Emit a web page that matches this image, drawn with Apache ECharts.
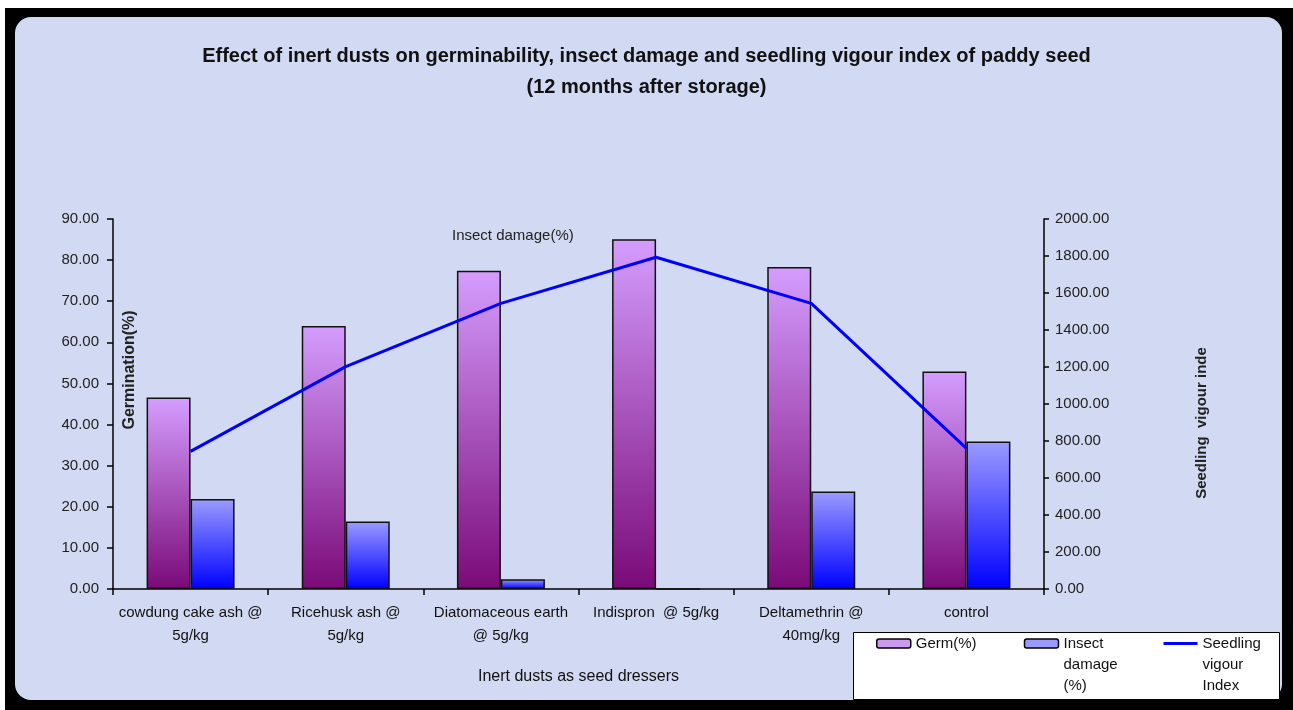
<!DOCTYPE html>
<html>
<head>
<meta charset="utf-8">
<script src="https://cdn.jsdelivr.net/npm/echarts@6/dist/echarts.min.js"></script>
<style>
  html, body { margin: 0; padding: 0; background: #fff; }
  #frame { position: absolute; left: 5px; top: 8px; width: 1288px; height: 702px; background: #000; }
  #panel { position: absolute; left: 15px; top: 17px; width: 1267px; height: 683px; border-radius: 16px; background: #d1daf2; }
  #main { position: absolute; left: 0; top: 0; width: 1293px; height: 710px; }
</style>
</head>
<body>
<div id="frame"></div>
<div id="panel"></div>
<div id="main"></div>
<script>
// treatments (x axis)
var categories = [
  'cowdung cake ash @\n5g/kg',
  'Ricehusk ash @\n5g/kg',
  'Diatomaceous earth\n@ 5g/kg',
  'Indispron  @ 5g/kg',
  'Deltamethrin @\n40mg/kg',
  'control'
];
var germ = [46.6, 64.0, 77.4, 85.1, 78.3, 52.9];
var insectDamage = [21.9, 16.4, 2.4, 0, 23.7, 35.9];
var vigourIndex = [744, 1202, 1544, 1793, 1544, 760];

var font = '"Liberation Sans", Arial, sans-serif';

var chart = echarts.init(document.getElementById('main'), null, { width: 1293, height: 710 });

var option = {
  backgroundColor: 'transparent',
  animation: false,
  textStyle: { fontFamily: font },
  title: {
    text: 'Effect of inert dusts on germinability, insect damage and seedling vigour index of paddy seed\n(12 months after storage)',
    left: 'center',
    top: 36,
    textStyle: { fontFamily: font, fontSize: 20, fontWeight: 'bold', color: '#111', lineHeight: 31, align: 'center' }
  },
  legend: {
    left: 876,
    top: 591,
    orient: 'horizontal',
    itemGap: 0,
    itemWidth: 34,
    itemHeight: 9,
    padding: 0,
    backgroundColor: 'transparent',
    textStyle: { fontFamily: font, fontSize: 15, color: '#111', lineHeight: 21 },
    // push multi-line names down so their first line sits beside the icon
    formatter: function (name) {
      return name.indexOf('\n') >= 0 ? ' \n \n' + name : name;
    },
    data: [
      { name: 'Germ(%)', itemStyle: { color: '#cc99ee', borderColor: '#000', borderWidth: 1.5 },
        textStyle: { width: 108 } },
      { name: 'Insect\ndamage\n(%)', itemStyle: { color: '#9999ff', borderColor: '#000', borderWidth: 1.5 },
        textStyle: { width: 100 } },
      { name: 'Seedling\nvigour\nIndex', icon: 'path://M0,0H34V3H0Z', itemStyle: { color: '#0000ff', borderWidth: 0 },
        textStyle: { width: 80 } }
    ]
  },
  grid: { left: 113, right: 249, top: 219, bottom: 121 },
  xAxis: {
    type: 'category',
    data: categories,
    axisLine: { lineStyle: { color: '#000', width: 1.5 } },
    axisTick: { show: true, length: 6, lineStyle: { color: '#000', width: 1.5 } },
    axisLabel: { fontFamily: font, fontSize: 15, color: '#111', lineHeight: 23, margin: 12, interval: 0 },
    name: 'Inert dusts as seed dressers',
    nameLocation: 'middle',
    nameGap: 80,
    nameTextStyle: { fontFamily: font, fontSize: 16, color: '#111' }
  },
  yAxis: [
    {
      type: 'value',
      min: 0,
      max: 90,
      interval: 10,
      splitLine: { show: false },
      axisLine: { show: true, lineStyle: { color: '#000', width: 1.5 } },
      axisTick: { show: true, length: 6, lineStyle: { color: '#000', width: 1.5 } },
      axisLabel: { fontFamily: font, fontSize: 15, color: '#222', margin: 14, formatter: function (v) { return v.toFixed(2); } }
    },
    {
      type: 'value',
      min: 0,
      max: 2000,
      interval: 200,
      position: 'right',
      splitLine: { show: false },
      axisLine: { show: true, lineStyle: { color: '#000', width: 1.5 } },
      axisTick: { show: true, length: 5, lineStyle: { color: '#000', width: 1.5 } },
      axisLabel: { fontFamily: font, fontSize: 15, color: '#222', margin: 11, formatter: function (v) { return v.toFixed(2); } }
    }
  ],
  series: [
    {
      name: 'Germ(%)',
      type: 'bar',
      data: germ,
      barWidth: 44,
      barGap: '0%',
      itemStyle: {
        borderColor: '#111',
        borderWidth: 1.5,
        color: new echarts.graphic.LinearGradient(0, 0, 0, 1, [
          { offset: 0, color: '#d59dff' },
          { offset: 1, color: '#7a0a78' }
        ])
      }
    },
    {
      name: 'Insect\ndamage\n(%)',
      type: 'bar',
      data: insectDamage,
      barWidth: 44,
      itemStyle: {
        borderColor: '#111',
        borderWidth: 1.5,
        color: new echarts.graphic.LinearGradient(0, 0, 0, 1, [
          { offset: 0, color: '#9b9bff' },
          { offset: 1, color: '#0000ff' }
        ])
      }
    },
    {
      name: 'Seedling\nvigour\nIndex',
      type: 'line',
      yAxisIndex: 1,
      data: vigourIndex,
      symbol: 'none',
      lineStyle: { color: '#0000ff', width: 3 },
      itemStyle: { color: '#0000ff' },
      z: 5
    }
  ],
  graphic: [
    {
      // legend box
      type: 'rect',
      z: 0,
      shape: { x: 853.5, y: 632.5, width: 426, height: 67 },
      style: { fill: '#fff', stroke: '#000', lineWidth: 1 }
    },
    {
      type: 'text',
      x: 130, y: 370,
      rotation: Math.PI / 2,
      style: { text: 'Germination(%)', font: 'bold 16px ' + font, fill: '#222', align: 'center', verticalAlign: 'middle' }
    },
    {
      type: 'text',
      x: 1202, y: 423,
      rotation: Math.PI / 2,
      style: { text: 'Seedling  vigour inde', font: 'bold 15px ' + font, fill: '#222', align: 'center', verticalAlign: 'middle' }
    },
    {
      type: 'text',
      x: 452, y: 236,
      style: { text: 'Insect damage(%)', font: '15px ' + font, fill: '#222', align: 'left', verticalAlign: 'middle' }
    }
  ]
};

chart.setOption(option);
</script>
</body>
</html>
